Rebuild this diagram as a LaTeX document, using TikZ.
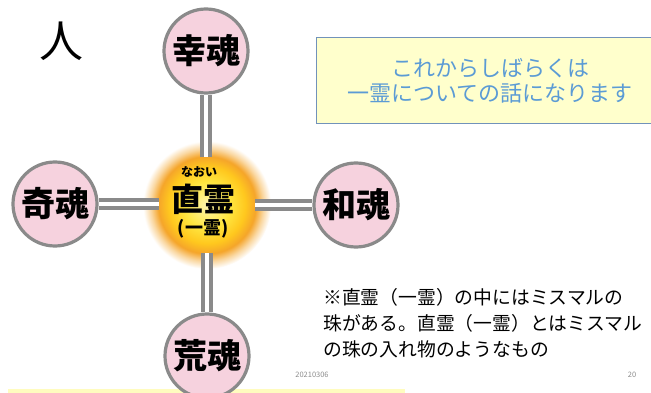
\documentclass[tikz,border=0pt]{standalone}
\usepackage{fontspec}
\setmainfont{Noto Sans CJK JP}
\definecolor{soulfill}{HTML}{F6D2DE}
\definecolor{soulring}{HTML}{8A8A8A}
\definecolor{boxfill}{HTML}{FFFFCC}
\definecolor{boxline}{HTML}{7192BA}
\definecolor{boxtext}{HTML}{5B9BD5}
\definecolor{footgray}{HTML}{8C8C8C}
\definecolor{g0}{HTML}{FFF6B0}
\definecolor{g1}{HTML}{FFE640}
\definecolor{g2}{HTML}{FFC81E}
\definecolor{g3}{HTML}{F5A52A}
\definecolor{g4}{HTML}{FAD7A0}
\pgfdeclareradialshading{glowshade}{\pgfpoint{0bp}{0bp}}{%
  color(0bp)=(g0);
  color(9bp)=(g1);
  color(15bp)=(g2);
  color(19bp)=(g3);
  color(22bp)=(g4);
  color(25bp)=(white);
  color(50bp)=(white)}
\tikzset{
  soul/.style={circle, draw=soulring, line width=3.2pt, fill=soulfill,
    minimum size=84pt, inner sep=0pt, font=\fontsize{34}{34}\selectfont\bfseries},
  dbl/.style={draw=soulring, line width=3.8pt, double=white, double distance=4.5pt},
  hub/.style={circle, minimum size=96pt, inner sep=0pt},
  lbl/.style={inner sep=0pt, align=center}
}
\begin{document}
\begin{tikzpicture}[x=1pt,y=-1pt]
\useasboundingbox (0,0) rectangle (651,393);
\fill[white] (0,0) rectangle (651,393);
% bottom faint strip
\fill[yellow!25!white] (8,389) rectangle (405,393);
% glow
\shade[shading=glowshade] (207,205) circle (64);
% hub
\node[hub] (nao) at (207,205) {};
% souls
\node[soul] (sak) at (206,51) {幸魂};
\node[soul] (kus) at (55,204) {奇魂};
\node[soul] (nig) at (356,205) {和魂};
\node[soul] (ara) at (207,356) {荒魂};
% connectors
\draw[dbl] (sak) -- (sak |- nao.north);
\draw[dbl] (ara |- nao.south) -- (ara);
\draw[dbl] (kus) -- (nao.west |- kus);
\draw[dbl] (nao.east |- nig) -- (nig);
% central text
\node[lbl, font=\fontsize{12}{12}\selectfont\bfseries] (furi) at (199,172) {なおい};
\node[lbl, font=\fontsize{32}{32}\selectfont\bfseries] (naohi) at (203,199) {直霊};
\node[lbl, font=\fontsize{18}{18}\selectfont\bfseries] (ichi) at (203,229) {(一霊)};
% person label
\node[lbl, font=\fontsize{44}{44}\selectfont] (hito) at (61,41) {人};
% message box
\node[draw=boxline, line width=1pt, fill=boxfill, minimum width=340pt, minimum height=86pt,
  anchor=north west, inner sep=0pt] (msg) at (316,37) {};
\node[lbl, text=boxtext, font=\fontsize{22}{25}\selectfont] (msgtxt) at (490,81)
  {これからしばらくは\\一霊についての話になります};
% note
\node[lbl, anchor=north west, align=left, font=\fontsize{18.8}{26}\selectfont] (note) at (323,288)
  {※直霊（一霊）の中にはミスマルの\\珠がある。直霊（一霊）とはミスマル\\の珠の入れ物のようなもの};
% footer
\node[lbl, text=footgray, font=\fontsize{7.5}{8}\selectfont] (date) at (312,375) {20210306};
\node[lbl, text=footgray, font=\fontsize{7.5}{8}\selectfont] (page) at (632,375) {20};
\end{tikzpicture}
\end{document}
